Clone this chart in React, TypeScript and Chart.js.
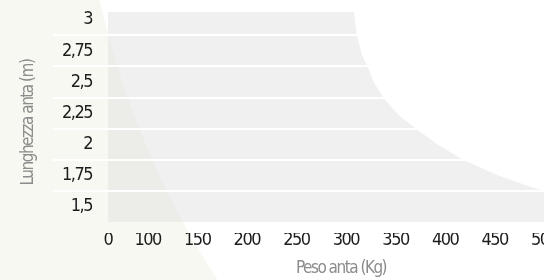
import { useEffect, useRef } from 'react';
import { Chart, registerables } from 'chart.js';

Chart.register(...registerables);

// Boundary of the admissible region (weight in Kg vs leaf length in m)
const boundaryWeight = [60, 308, 311, 316, 322, 328, 338, 353, 372, 393, 418, 453, 489, 500];
const boundaryLength = [3.0625, 3.0625, 2.875, 2.72, 2.62, 2.5, 2.37, 2.235, 2.115, 1.995, 1.875, 1.75, 1.65, 1.625];

const xTickValues = [60, 100, 150, 200, 250, 300, 350, 400, 450, 500];
const xTickLabels = ['0', '100', '150', '200', '250', '300', '350', '400', '450', '500'];
const yTickValues = [1.5, 1.75, 2, 2.25, 2.5, 2.75, 3];
const yTickLabels = ['1,5', '1,75', '2', '2,25', '2,5', '2,75', '3'];

const xMin = 60;
const xMax = 530;
const yMin = 1.286;
const yMax = 3.0625;
const fillBase = 1.375;

const FAMILY = "'DejaVu Sans Condensed', 'Liberation Sans Narrow', 'DejaVu Sans', sans-serif";
const TICK_COLOR = '#1c1c1c';
const TITLE_COLOR = '#8c8c8c';

const narrowText = {
  id: 'narrowText',
  beforeDraw(chart: any) {
    (chart.ctx as any).letterSpacing = '-1.5px';
  },
};

export default function App() {
  const ref = useRef<HTMLCanvasElement>(null);

  useEffect(() => {
    const points = boundaryWeight.map((w, i) => ({ x: w, y: boundaryLength[i] }));
    const gridColor = (ctx: any) => (ctx.type === 'tick' && ctx.index === 0 ? 'rgba(0,0,0,0)' : '#ffffff');
    const chart = new Chart(ref.current!, {
      type: 'line',
      data: {
        datasets: [
          {
            data: points,
            borderWidth: 0,
            pointRadius: 0,
            backgroundColor: 'rgba(220,220,220,0.43)',
            fill: { value: fillBase },
            tension: 0,
          },
        ],
      },
      plugins: [narrowText],
      options: {
        responsive: false,
        animation: false,
        layout: { padding: { top: 12, right: 6, bottom: 0, left: 0 } },
        plugins: { legend: { display: false }, tooltip: { enabled: false } },
        scales: {
          x: {
            type: 'linear',
            min: xMin,
            max: xMax,
            afterBuildTicks: (s: any) => {
              s.ticks = xTickValues.map((v) => ({ value: v }));
            },
            afterFit: (s: any) => {
              s.height = 47;
            },
            grid: { display: false, drawTicks: false },
            border: { display: false },
            ticks: {
              padding: -3,
              color: TICK_COLOR,
              font: { family: FAMILY, size: 18 },
              autoSkip: false,
              maxRotation: 0,
              callback: (_v: any, i: number) => xTickLabels[i],
            },
            title: {
              display: true,
              text: 'Peso anta (Kg)',
              color: TITLE_COLOR,
              font: { family: FAMILY, size: 17 },
              padding: { top: 0, bottom: 1 },
            },
          },
          y: {
            type: 'linear',
            min: yMin,
            max: yMax,
            afterBuildTicks: (s: any) => {
              s.ticks = yTickValues.map((v) => ({ value: v }));
            },
            afterFit: (s: any) => {
              s.width = 108;
            },
            grid: {
              offset: true,
              z: 1,
              color: gridColor,
              tickColor: gridColor,
              lineWidth: 2,
              drawTicks: true,
              tickLength: 55,
            },
            border: { display: false },
            ticks: {
              padding: -39,
              color: TICK_COLOR,
              font: { family: FAMILY, size: 18 },
              autoSkip: false,
              callback: (_v: any, i: number) => yTickLabels[i],
            },
            title: {
              display: true,
              text: 'Lunghezza anta (m)',
              color: TITLE_COLOR,
              font: { family: FAMILY, size: 17 },
              padding: { top: 18, bottom: 0 },
            },
          },
        },
      },
    });
    return () => chart.destroy();
  }, []);

  return (
    <div
      style={{
        position: 'fixed',
        left: 0,
        top: 0,
        width: 544,
        height: 280,
        overflow: 'hidden',
        background: 'radial-gradient(circle 844px at 924px -182px, #ffffff 843.5px, #f8f8f2 844.5px)',
      }}
    >
      <canvas ref={ref} width={580} height={280} style={{ display: 'block', width: 580, height: 280 }} />
    </div>
  );
}
